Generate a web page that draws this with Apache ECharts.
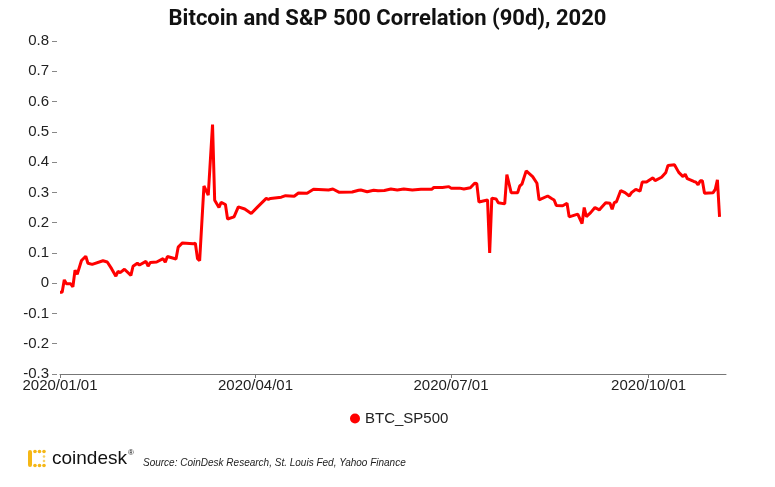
<!DOCTYPE html>
<html>
<head>
<meta charset="utf-8">
<script src="https://cdn.jsdelivr.net/npm/echarts@6/dist/echarts.min.js"></script>
<style>
html,body{margin:0;padding:0;background:#fff;}
#chart{width:775px;height:487px;}
</style>
</head>
<body>
<div id="chart"></div>
<script>
const seriesName = 'BTC_SP500';
const dates = [
'2020-01-01','2020-01-02','2020-01-03','2020-01-04','2020-01-06','2020-01-07','2020-01-08','2020-01-09','2020-01-11','2020-01-13',
'2020-01-14','2020-01-16','2020-01-21','2020-01-23','2020-01-25','2020-01-27','2020-01-28','2020-01-29','2020-01-31','2020-02-03',
'2020-02-04','2020-02-06','2020-02-07','2020-02-10','2020-02-11','2020-02-12','2020-02-15','2020-02-18','2020-02-19','2020-02-20',
'2020-02-24','2020-02-25','2020-02-27','2020-03-03','2020-03-04','2020-03-05','2020-03-06','2020-03-08','2020-03-10','2020-03-12',
'2020-03-13','2020-03-15','2020-03-16','2020-03-18','2020-03-19','2020-03-22','2020-03-24','2020-03-27','2020-03-30','2020-04-02',
'2020-04-06','2020-04-07','2020-04-08','2020-04-13','2020-04-15','2020-04-19','2020-04-21','2020-04-25','2020-04-28','2020-05-05',
'2020-05-07','2020-05-10','2020-05-16','2020-05-19','2020-05-20','2020-05-23','2020-05-26','2020-05-28','2020-05-31','2020-06-03',
'2020-06-06','2020-06-09','2020-06-13','2020-06-17','2020-06-22','2020-06-23','2020-06-27','2020-06-30','2020-07-01','2020-07-05',
'2020-07-07','2020-07-10','2020-07-12','2020-07-13','2020-07-14','2020-07-18','2020-07-19','2020-07-20','2020-07-22','2020-07-23',
'2020-07-26','2020-07-27','2020-07-29','2020-08-01','2020-08-02','2020-08-03','2020-08-05','2020-08-08','2020-08-10','2020-08-11',
'2020-08-15','2020-08-17','2020-08-18','2020-08-19','2020-08-22','2020-08-24','2020-08-25','2020-08-29','2020-08-31','2020-09-01',
'2020-09-02','2020-09-04','2020-09-06','2020-09-08','2020-09-09','2020-09-11','2020-09-13','2020-09-14','2020-09-15','2020-09-16',
'2020-09-18','2020-09-20','2020-09-22','2020-09-23','2020-09-25','2020-09-27','2020-09-28','2020-09-30','2020-10-03','2020-10-04',
'2020-10-07','2020-10-09','2020-10-10','2020-10-13','2020-10-15','2020-10-17','2020-10-18','2020-10-19','2020-10-22','2020-10-23',
'2020-10-24','2020-10-25','2020-10-26','2020-10-27','2020-10-31','2020-11-01','2020-11-02','2020-11-03'
];
const values = [
-0.03,-0.03,0.011,-0.002,-0.002,-0.012,0.043,0.029,0.075,0.089,
0.066,0.062,0.074,0.07,0.048,0.023,0.039,0.035,0.046,0.026,
0.056,0.066,0.06,0.072,0.056,0.068,0.07,0.081,0.069,0.088,
0.08,0.119,0.133,0.13,0.132,0.081,0.074,0.321,0.291,0.524,
0.274,0.25,0.267,0.26,0.212,0.219,0.252,0.245,0.23,0.252,
0.28,0.277,0.28,0.284,0.289,0.287,0.298,0.297,0.31,0.308,
0.311,0.3,0.301,0.307,0.308,0.302,0.307,0.305,0.306,0.311,
0.308,0.311,0.308,0.31,0.31,0.316,0.316,0.319,0.314,0.314,
0.311,0.315,0.33,0.329,0.268,0.275,0.1,0.281,0.278,0.266,
0.262,0.359,0.299,0.299,0.321,0.327,0.371,0.352,0.33,0.275,
0.288,0.279,0.275,0.257,0.256,0.264,0.219,0.228,0.197,0.25,
0.22,0.233,0.25,0.242,0.25,0.266,0.264,0.244,0.266,0.269,
0.306,0.299,0.288,0.299,0.31,0.304,0.334,0.334,0.348,0.339,
0.35,0.366,0.389,0.391,0.366,0.352,0.36,0.345,0.336,0.334,
0.325,0.338,0.338,0.297,0.299,0.31,0.341,0.219
];
const xTickDates = ['2020-01-01','2020-04-01','2020-07-01','2020-10-01'];
const xMin = '2020-01-01';
const xMax = '2020-11-06';
const yMin = -0.3, yMax = 0.8, yStep = 0.1;

function ts(s){ const p = s.split('-').map(Number); return new Date(p[0], p[1]-1, p[2]).getTime(); }
function fmt(v){ const d = new Date(v); const p = n => String(n).padStart(2,'0'); return d.getFullYear()+'/'+p(d.getMonth()+1)+'/'+p(d.getDate()); }

const chart = echarts.init(document.getElementById('chart'), null, {renderer:'canvas'});
const FONT = '"Liberation Sans", Arial, sans-serif';
const tickVals = xTickDates.map(ts);
chart.setOption({
  animation:false,
  backgroundColor:'#ffffff',
  title:{
    text:'Bitcoin and S&P 500 Correlation (90d), 2020',
    left:'center', top:3,
    textStyle:{fontFamily:'Roboto', fontWeight:'bold', fontSize:22, color:'#111'}
  },
  legend:{
    data:[seriesName], left:345, top:406, icon:'circle', itemWidth:10, itemHeight:10, itemGap:10,
    textStyle:{fontFamily:FONT, fontSize:15, color:'#222'}
  },
  grid:{left:60, right:49, top:41, bottom:113, containLabel:false},
  xAxis:{
    type:'value', min:ts(xMin), max:ts(xMax), scale:true,
    axisLine:{show:true, onZero:false, lineStyle:{color:'#777', width:1}},
    axisTick:{show:true, length:4, lineStyle:{color:'#777'}, customValues:tickVals},
    axisLabel:{fontFamily:FONT, fontSize:15, color:'#222', margin:4, customValues:tickVals, formatter:fmt, hideOverlap:false},
    splitLine:{show:false}
  },
  yAxis:{
    type:'value', min:yMin, max:yMax, interval:yStep, offset:3,
    axisLine:{show:false},
    axisTick:{show:true, length:5, lineStyle:{color:'#888'}},
    axisLabel:{fontFamily:FONT, fontSize:15, color:'#222', margin:8, formatter:v => String(Math.round(v*10)/10)},
    splitLine:{show:false}
  },
  series:[{
    name:seriesName, type:'line', symbol:'none', clip:false,
    data:dates.map((d,i)=>[ts(d), values[i]]),
    lineStyle:{color:'#ff0000', width:3},
    itemStyle:{color:'#ff0000'}
  }],
  graphic:[
    {type:'rect', shape:{x:28, y:450, width:4, height:17, r:2}, style:{fill:'#f5b716'}},
    {type:'circle', shape:{cx:35, cy:451.5, r:1.8}, style:{fill:'#f5b716'}},
    {type:'circle', shape:{cx:39.5, cy:451.5, r:1.8}, style:{fill:'#f5b716'}},
    {type:'circle', shape:{cx:44, cy:451.5, r:1.8}, style:{fill:'#f5b716'}},
    {type:'circle', shape:{cx:35, cy:465.5, r:1.8}, style:{fill:'#f5b716'}},
    {type:'circle', shape:{cx:39.5, cy:465.5, r:1.8}, style:{fill:'#f5b716'}},
    {type:'circle', shape:{cx:44, cy:465.5, r:1.8}, style:{fill:'#f5b716'}},
    {type:'circle', shape:{cx:44, cy:456.5, r:1.3}, style:{fill:'#f8cf62'}},
    {type:'circle', shape:{cx:44, cy:461, r:1.3}, style:{fill:'#f8cf62'}},
    {type:'text', left:52, top:449, style:{text:'coindesk', font:'19px "Liberation Sans", Arial, sans-serif', fill:'#111'}},
    {type:'text', left:128, top:449, style:{text:'®', font:'8px "Liberation Sans", Arial, sans-serif', fill:'#111'}},
    {type:'text', left:143, top:458, style:{text:'Source: CoinDesk Research, St. Louis Fed, Yahoo Finance', font:'italic 10px "Liberation Sans", Arial, sans-serif', fill:'#222'}}
  ]
});
</script>
</body>
</html>
